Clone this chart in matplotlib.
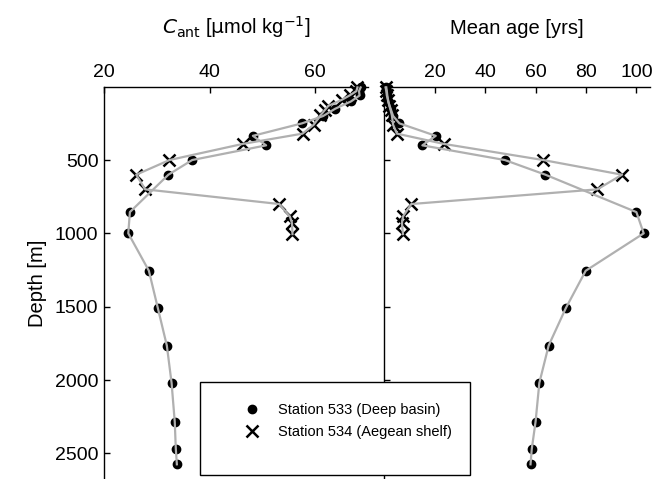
import matplotlib
matplotlib.use("Agg")
from matplotlib import pyplot as plt
from matplotlib.patches import Rectangle
from matplotlib.lines import Line2D

plt.rcParams['font.family'] = ['Liberation Sans', 'DejaVu Sans']

# Station 533 (Deep basin)
depth_533 = [5, 30, 60, 100, 150, 200, 250, 335, 400, 500, 600, 855, 1000,
             1255, 1510, 1765, 2020, 2285, 2470, 2575]
cant_533 = [68.6, 68.3, 68.4, 66.8, 63.8, 61.5, 57.5, 48.2, 50.7, 36.7, 32.2,
            24.9, 24.6, 28.5, 30.2, 31.9, 32.8, 33.4, 33.6, 33.8]
age_533 = [0.8, 1.0, 1.2, 1.5, 2.5, 3.5, 6.0, 20.4, 15.1, 47.8, 63.9, 100.0,
           102.9, 79.9, 72.0, 65.2, 61.5, 60.0, 58.5, 58.0]

# Station 534 (Aegean shelf)
depth_534 = [5, 30, 60, 90, 130, 160, 195, 260, 320, 390, 500, 600, 700, 800,
             885, 930, 1005]
cant_534 = [68.0, 67.8, 66.5, 65.0, 62.5, 61.8, 61.0, 59.7, 57.6, 46.3, 32.4,
            26.1, 27.8, 53.2, 55.2, 55.6, 55.7]
age_534 = [0.5, 0.8, 1.0, 1.5, 2.0, 2.5, 3.0, 3.5, 5.0, 23.6, 63.0, 94.3, 84.5,
           10.7, 7.4, 7.0, 7.4]

labels = ["Station 533 (Deep basin)", "Station 534 (Aegean shelf)"]
depth_ticks = [500, 1000, 1500, 2000, 2500]

fig = plt.figure(figsize=(6.65, 4.79), dpi=100)
ax1 = fig.add_axes([104 / 665, 0.0, 264 / 665, 1 - 86.7 / 479])
ax2 = fig.add_axes([384.3 / 665, 0.0, 265.7 / 665, 1 - 86.7 / 479])

line_col = '#b0b0b0'


def draw_profile(ax, x533, x534):
    # markers first, grey line over them
    ax.plot(x533, depth_533, 'o', color='black', ms=6, clip_on=False, zorder=2)
    ax.plot(x534, depth_534, 'x', color='black', ms=8, mew=1.8, clip_on=False, zorder=2)
    ax.plot(x533, depth_533, '-', color=line_col, lw=1.6, clip_on=False, zorder=3)
    ax.plot(x534, depth_534, '-', color=line_col, lw=1.6, clip_on=False, zorder=3)
    ax.set_ylim(2675, 0)
    ax.set_yticks(depth_ticks)
    ax.xaxis.tick_top()
    ax.xaxis.set_label_position('top')
    for s in ['right', 'bottom']:
        ax.spines[s].set_visible(False)
    for s in ['left', 'top']:
        ax.spines[s].set_linewidth(1.0)
    ax.tick_params(direction='in', length=4, width=1, labelsize=14, pad=4)
    ax.patch.set_alpha(0)


draw_profile(ax1, cant_533, cant_534)
ax1.set_xlim(20, 70)
ax1.set_xticks([20, 40, 60])
ax1.set_ylabel("Depth [m]", fontsize=14.5, labelpad=6)
ax1.set_xlabel(r"$C_{\mathrm{ant}}$ [$\mathrm{\mu}$mol kg$^{-1}$]", fontsize=14.5, labelpad=22)

draw_profile(ax2, age_533, age_534)
ax2.set_xlim(0, 105.4)
ax2.set_xticks([20, 40, 60, 80, 100])
ax2.set_yticklabels([])
ax2.set_xlabel("Mean age [yrs]", fontsize=14.5, labelpad=22)

# legend box
box = Rectangle((200 / 665, 4 / 479), 270 / 665, 93 / 479, transform=fig.transFigure,
                facecolor='white', edgecolor='black', lw=1.0, zorder=4)
fig.patches.append(box)
handles = [Line2D([], [], ls='none', marker='o', color='black', ms=6),
           Line2D([], [], ls='none', marker='x', color='black', ms=8, mew=1.8)]
leg = fig.legend(handles, labels, loc='center', bbox_to_anchor=(345 / 665, 1 - 421 / 479),
                 frameon=False, fontsize=10.5, handlelength=2.0, labelspacing=0.55)
leg.set_zorder(6)

fig.savefig("out.png", dpi=100)
